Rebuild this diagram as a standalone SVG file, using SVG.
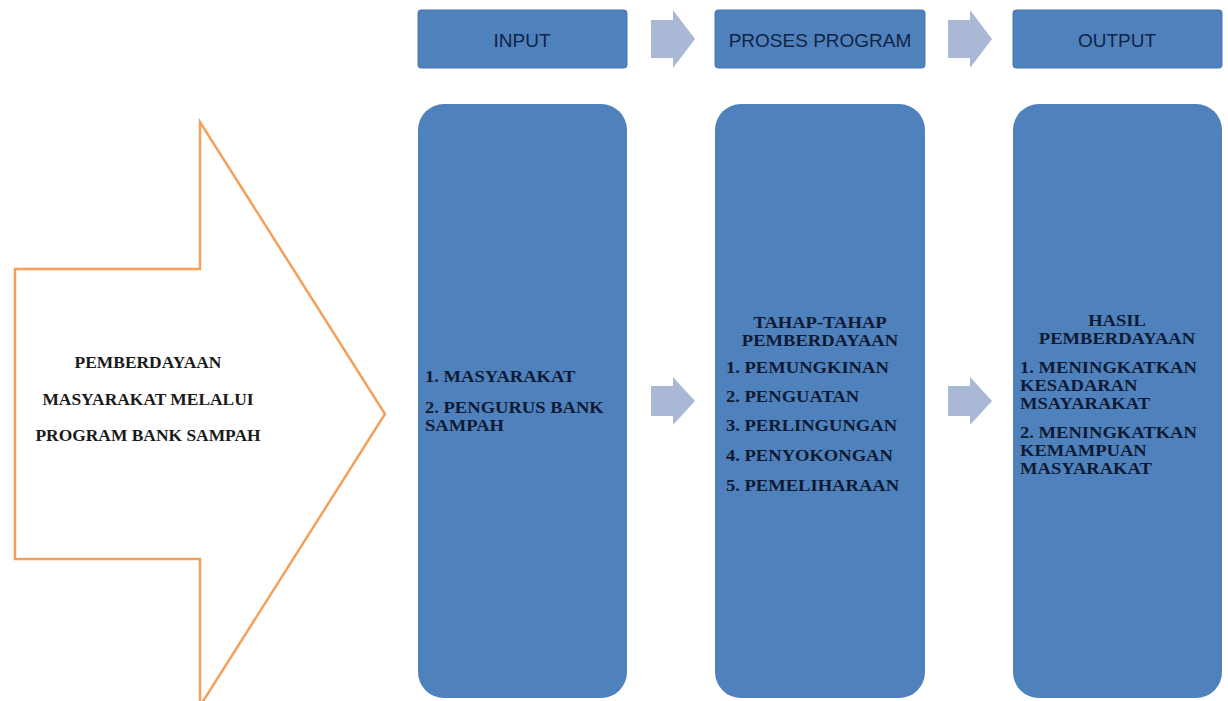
<svg xmlns="http://www.w3.org/2000/svg" width="1228" height="701" viewBox="0 0 1228 701">
<style>
.hdr{fill:#4f81bd;stroke:#4676b0;stroke-width:1}
.col{fill:#4f81bd}
.ha{font-family:"Liberation Sans",Arial,sans-serif;font-size:19px;fill:#112446;text-anchor:middle}
.bt{font-family:"Liberation Serif","Times New Roman",serif;font-weight:bold;font-size:16px;fill:#0e1a33}
.c{text-anchor:middle}
.lt{font-family:"Liberation Serif","Times New Roman",serif;font-weight:bold;font-size:16px;fill:#1a1a1a;text-anchor:middle}
.arr{fill:#a9b8d5}
</style>
<rect width="1228" height="701" fill="#ffffff"/>
<g id="main-arrow">
<path d="M15,269 L200,269 L200,122 L385,414 L200,706 L200,559 L15,559 Z" fill="#ffffff" stroke="#f2a05a" stroke-width="2.5" stroke-linejoin="miter"/>
<text class="lt" transform="translate(148,368) scale(1.09,1)">PEMBERDAYAAN</text>
<text class="lt" transform="translate(148,405) scale(1.09,1)">MASYARAKAT MELALUI</text>
<text class="lt" transform="translate(148,441) scale(1.09,1)">PROGRAM BANK SAMPAH</text>
</g>
<g id="hdr-input">
<rect class="hdr" x="418" y="10" width="209" height="58" rx="3"/>
<text class="ha" x="522" y="47">INPUT</text>
</g>
<g id="hdr-proses">
<rect class="hdr" x="715" y="10" width="210" height="58" rx="3"/>
<text class="ha" x="820" y="47">PROSES PROGRAM</text>
</g>
<g id="hdr-output">
<rect class="hdr" x="1013" y="10" width="209" height="58" rx="3"/>
<text class="ha" x="1117" y="47">OUTPUT</text>
</g>
<g id="col-input">
<rect class="col" x="418" y="104" width="209" height="594" rx="26"/>
<text class="bt" transform="translate(425,382) scale(1.16,1)">1. MASYARAKAT</text>
<text class="bt" transform="translate(425,413) scale(1.16,1)">2. PENGURUS BANK</text>
<text class="bt" transform="translate(425,431) scale(1.16,1)">SAMPAH</text>
</g>
<g id="col-proses">
<rect class="col" x="715" y="104" width="210" height="594" rx="26"/>
<text class="bt c" transform="translate(820,328) scale(1.16,1)">TAHAP-TAHAP</text>
<text class="bt c" transform="translate(820,346) scale(1.16,1)">PEMBERDAYAAN</text>
<text class="bt" transform="translate(726,373) scale(1.16,1)">1. PEMUNGKINAN</text>
<text class="bt" transform="translate(726,402) scale(1.16,1)">2. PENGUATAN</text>
<text class="bt" transform="translate(726,431) scale(1.16,1)">3. PERLINGUNGAN</text>
<text class="bt" transform="translate(726,461) scale(1.16,1)">4. PENYOKONGAN</text>
<text class="bt" transform="translate(726,491) scale(1.16,1)">5. PEMELIHARAAN</text>
</g>
<g id="col-output">
<rect class="col" x="1013" y="104" width="209" height="594" rx="26"/>
<text class="bt c" transform="translate(1117,326) scale(1.16,1)">HASIL</text>
<text class="bt c" transform="translate(1117,344) scale(1.16,1)">PEMBERDAYAAN</text>
<text class="bt" transform="translate(1020,373) scale(1.16,1)">1. MENINGKATKAN</text>
<text class="bt" transform="translate(1020,391) scale(1.16,1)">KESADARAN</text>
<text class="bt" transform="translate(1020,409) scale(1.16,1)">MSAYARAKAT</text>
<text class="bt" transform="translate(1020,438) scale(1.16,1)">2. MENINGKATKAN</text>
<text class="bt" transform="translate(1020,456) scale(1.16,1)">KEMAMPUAN</text>
<text class="bt" transform="translate(1020,474) scale(1.16,1)">MASYARAKAT</text>
</g>
<g id="connectors">
<path class="arr" d="M651,20 L673,20 L673,10 L695,39 L673,68 L673,58 L651,58 Z"/>
<path class="arr" d="M948,20 L970,20 L970,10 L992,39 L970,68 L970,58 L948,58 Z"/>
<path class="arr" d="M651,386 L673,386 L673,377 L695,401 L673,425 L673,416 L651,416 Z"/>
<path class="arr" d="M948,386 L970,386 L970,377 L992,401 L970,425 L970,416 L948,416 Z"/>
</g>
</svg>
